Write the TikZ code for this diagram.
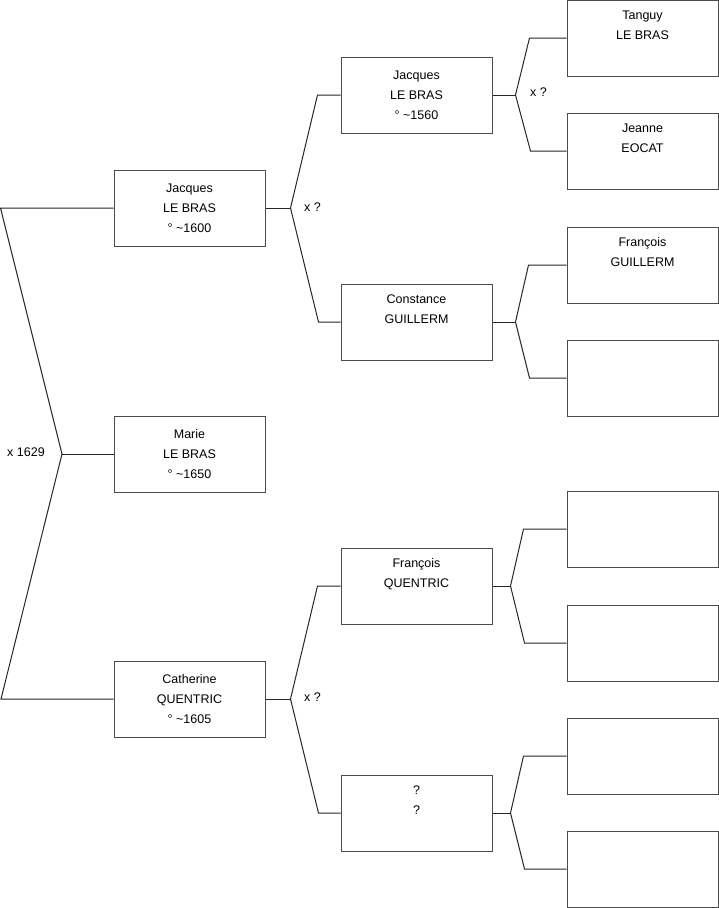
\documentclass[tikz,border=0pt]{standalone}
\usepackage{fontspec}
\setmainfont{Liberation Sans}

\tikzset{
  person/.style={draw=black!70, line width=1pt, fill=white, minimum width=151, minimum height=76,
    align=center, inner sep=0pt, font=\fontsize{12.5}{20}\selectfont},
  link/.style={draw=black!85, line width=1pt},
  union/.style={anchor=west, inner sep=0pt, font=\fontsize{12.5}{15}\selectfont}
}

\begin{document}
\begin{tikzpicture}[x=1pt, y=-1pt]
  \useasboundingbox (0,0) rectangle (719,908);

  % generation 1 and 2
  \node[person] (marie) at (189.5,454) {Marie\\LE BRAS\\° \textasciitilde1650};
  \node[person] (jacques) at (189.5,208) {Jacques\\LE BRAS\\° \textasciitilde1600};
  \node[person] (catherine) at (189.5,699) {Catherine\\QUENTRIC\\° \textasciitilde1605};

  % generation 3
  \node[person] (jacquesp) at (416.5,95) {Jacques\\LE BRAS\\° \textasciitilde1560};
  \node[person] (constance) at (416.5,322) {Constance\\GUILLERM\\\strut};
  \node[person] (francoisq) at (416.5,586) {François\\QUENTRIC\\\strut};
  \node[person] (unknown) at (416.5,813) {?\\?\\\strut};

  % generation 4
  \node[person] (tanguy) at (642.5,38) {Tanguy\\LE BRAS\\\strut};
  \node[person] (jeanne) at (642.5,151) {Jeanne\\EOCAT\\\strut};
  \node[person] (francoisg) at (642.5,265) {François\\GUILLERM\\\strut};
  \node[person] (empty1) at (642.5,378) {};
  \node[person] (empty2) at (642.5,529) {};
  \node[person] (empty3) at (642.5,643) {};
  \node[person] (empty4) at (642.5,756) {};
  \node[person] (empty5) at (642.5,869) {};

  % unions
  \coordinate (u1) at (62,454);
  \draw[link] (marie.west) -- (u1);
  \draw[link] (jacques.west) -- ++(-113,0) -- (u1) -- ++(-61,245) -- (catherine.west);
  \node[union] at (7,452) {x 1629};

  \draw[link] (jacques.east) -- ++(25,0) coordinate (u2);
  \draw[link] (jacquesp.west) -- ++(-23,0) -- (u2) -- ++(28,114) -- (constance.west);
  \node[union] at (304,207) {x ?};

  \draw[link] (catherine.east) -- ++(25,0) coordinate (u3);
  \draw[link] (francoisq.west) -- ++(-23,0) -- (u3) -- ++(28,114) -- (unknown.west);
  \node[union] at (304,697) {x ?};

  \draw[link] (jacquesp.east) -- ++(23,0) coordinate (u4);
  \draw[link] (tanguy.west) -- ++(-37,0) -- (u4) -- ++(15,56) -- (jeanne.west);
  \node[union] at (530,92) {x ?};

  \draw[link] (constance.east) -- ++(23,0) coordinate (u5);
  \draw[link] (francoisg.west) -- ++(-38,0) -- (u5) -- ++(14,56) -- (empty1.west);

  \draw[link] (francoisq.east) -- ++(18,0) coordinate (u6);
  \draw[link] (empty2.west) -- ++(-43,0) -- (u6) -- ++(14,57) -- (empty3.west);

  \draw[link] (unknown.east) -- ++(18,0) coordinate (u7);
  \draw[link] (empty4.west) -- ++(-43,0) -- (u7) -- ++(14,56) -- (empty5.west);
\end{tikzpicture}
\end{document}
